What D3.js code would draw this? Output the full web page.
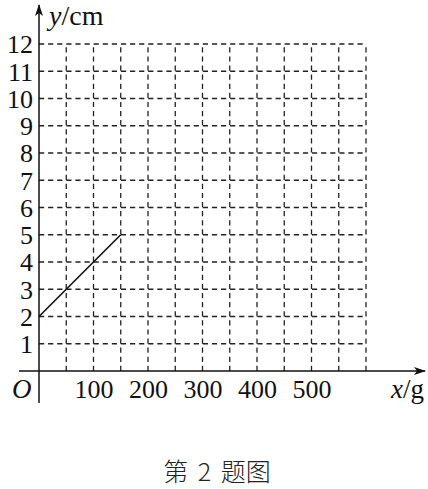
<!DOCTYPE html>
<html>
<head>
<meta charset="utf-8">
<script src="https://cdn.jsdelivr.net/npm/d3@7"></script>
<style>
html,body{margin:0;padding:0;background:#fff;}
svg{display:block;}
</style>
</head>
<body>
<svg id="chart" width="428" height="489"></svg>
<script>
// Data
const xTickValues = [100, 200, 300, 400, 500];
const yTickValues = [1,2,3,4,5,6,7,8,9,10,11,12];
const xGridValues = [50,100,150,200,250,300,350,400,450,500,550,600];
const yGridValues = [1,2,3,4,5,6,7,8,9,10,11,12];
const lineX = [0, 50, 100, 150];
const lineY = [2, 3, 4, 5];
const xLabel = "g";
const yLabel = "cm";
const caption = "第 2 题图";

const svg = d3.select("#chart");
const x = d3.scaleLinear().domain([0, 600]).range([39, 366]);
const y = d3.scaleLinear().domain([0, 12]).range([371, 44]);
const serif = "'Liberation Serif','Times New Roman',serif";

// grid
const g = svg.append("g").attr("stroke", "#222").attr("stroke-width", 1.3)
  .attr("stroke-dasharray", "5.2,3.9").attr("fill", "none");
g.selectAll("line.h").data(yGridValues).enter().append("line")
  .attr("x1", x(0)).attr("x2", x(600))
  .attr("y1", d => y(d)).attr("y2", d => y(d));
g.selectAll("line.v").data(xGridValues).enter().append("line")
  .attr("x1", d => x(d)).attr("x2", d => x(d))
  .attr("y1", y(0)).attr("y2", y(12));

// axes lines
svg.append("defs").append("marker").attr("id", "arr")
  .attr("viewBox", "0 0 12 10").attr("refX", 11).attr("refY", 5)
  .attr("markerWidth", 12).attr("markerHeight", 10).attr("markerUnits", "userSpaceOnUse")
  .attr("orient", "auto")
  .append("path").attr("d", "M0,1 L12,5 L0,9 L3,5 Z").attr("fill", "#111");

svg.append("line").attr("x1", 19).attr("x2", 425).attr("y1", y(0)).attr("y2", y(0))
  .attr("stroke", "#111").attr("stroke-width", 1.5).attr("marker-end", "url(#arr)");
svg.append("line").attr("x1", x(0)).attr("x2", x(0)).attr("y1", 403).attr("y2", 5)
  .attr("stroke", "#111").attr("stroke-width", 1.5).attr("marker-end", "url(#arr)");

// axis labels via d3 axes
const xAxis = svg.append("g").attr("transform", `translate(0,${y(0)})`)
  .call(d3.axisBottom(x).tickValues(xTickValues).tickSize(0).tickPadding(9));
xAxis.select(".domain").remove();
xAxis.selectAll("text").attr("font-family", serif).attr("font-size", 26).attr("fill", "#111");

const yAxis = svg.append("g").attr("transform", `translate(${x(0)},0)`)
  .call(d3.axisLeft(y).tickValues(yTickValues).tickSize(0).tickPadding(6));
yAxis.select(".domain").remove();
yAxis.selectAll("text").attr("font-family", serif).attr("font-size", 26).attr("fill", "#111")
  .attr("dy", "0.34em");

// data line
const line = d3.line().x(d => x(d[0])).y(d => y(d[1]));
svg.append("path").datum(lineX.map((v, i) => [v, lineY[i]]))
  .attr("d", line).attr("fill", "none").attr("stroke", "#111").attr("stroke-width", 1.6);

// origin
svg.append("text").attr("x", 12).attr("y", 398).attr("font-family", serif)
  .attr("font-style", "italic").attr("font-size", 27).attr("fill", "#111").text("O");

// axis titles
const yt = svg.append("text").attr("x", 49).attr("y", 25).attr("font-family", serif)
  .attr("font-size", 28).attr("fill", "#111");
yt.append("tspan").attr("font-style", "italic").text("y");
yt.append("tspan").text("/" + yLabel);

const xt = svg.append("text").attr("x", 391).attr("y", 398).attr("font-family", serif)
  .attr("font-size", 27).attr("fill", "#111");
xt.append("tspan").attr("font-style", "italic").text("x");
xt.append("tspan").text("/" + xLabel);

// caption
svg.append("text").attr("x", 217).attr("y", 481).attr("text-anchor", "middle")
  .attr("font-family", "'Noto Sans CJK SC', sans-serif").attr("font-weight", 300)
  .attr("font-size", 25).attr("word-spacing", 4).attr("fill", "#222").text(caption);
</script>
</body>
</html>
